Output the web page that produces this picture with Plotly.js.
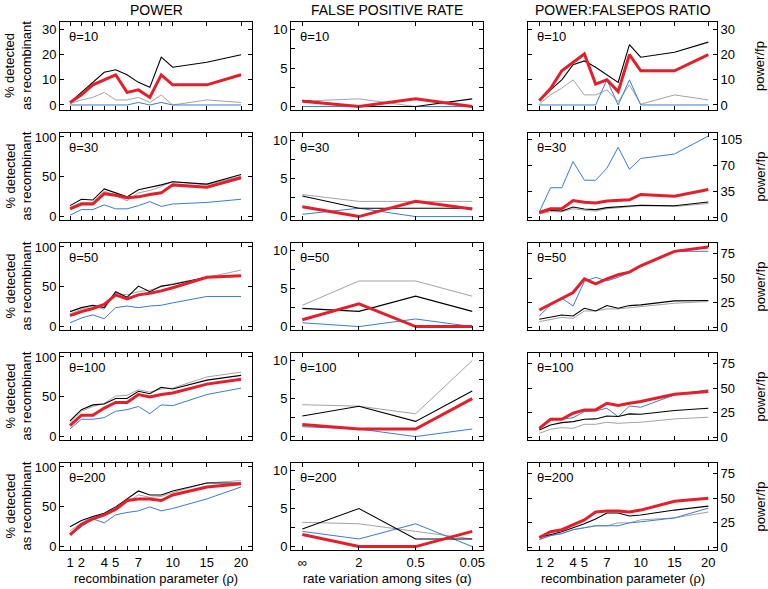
<!DOCTYPE html>
<html><head><meta charset="utf-8">
<script src="https://cdn.plot.ly/plotly-3.0.1.min.js"></script>
<style>html,body{margin:0;padding:0;background:#fff}#chart{width:768px;height:589px}</style>
</head><body><div id="chart"></div>
<script>
// ---------- DATA ----------
const thetas = [10, 30, 50, 100, 200];
const rho = [1, 2, 3, 4, 5, 6, 7, 8, 9, 10, 15, 20];
const rhoTickLabels = ['1', '2', '', '4', '5', '', '7', '', '', '10', '15', '20'];
const alphaCats = ['∞', '2', '0.5', '0.05'];
const colTitles = ['POWER', 'FALSE POSITIVE RATE', 'POWER:FALSEPOS RATIO'];

// POWER (% detected as recombinant)
const pow10_black = [1, 5, 9, 13, 14, 12, 9, 7, 19, 15, 17, 20];
const pow10_red   = [1, 4, 8, 10, 12, 5, 6, 3, 12, 8, 8, 12];
const pow10_gray  = [0.5, 2, 3, 5, 2, 2, 3, 1, 4, 0, 2, 1];
const pow10_blue  = [0, 0, 0, 0, 0, 0, 1, 0, 1, 0, 0, 0];

const pow30_black = [14, 22, 21, 35, 30, 25, 34, 37, 40, 44, 41, 53];
const pow30_red   = [10, 16, 16, 29, 27, 24, 25, 28, 30, 40, 37, 49];
const pow30_gray  = [12, 18, 18, 32, 27, 20, 30, 33, 38, 44, 40, 51];
const pow30_blue  = [2, 9, 9, 15, 10, 10, 14, 19, 13, 16, 18, 22];

const pow50_black = [19, 24, 27, 24, 44, 37, 51, 44, 51, 53, 62, 64];
const pow50_red   = [14, 19, 23, 28, 40, 35, 40, 42, 45, 49, 62, 64];
const pow50_gray  = [16, 22, 26, 22, 42, 40, 44, 46, 50, 54, 62, 71];
const pow50_blue  = [5, 11, 15, 10, 24, 26, 24, 26, 27, 30, 38, 38];

const pow100_black = [20, 34, 40, 41, 48, 48, 57, 54, 62, 60, 71, 77];
const pow100_red   = [14, 27, 27, 36, 43, 43, 53, 50, 53, 55, 66, 72];
const pow100_gray  = [18, 32, 38, 42, 51, 52, 59, 56, 60, 61, 75, 81];
const pow100_blue  = [10, 22, 22, 24, 32, 34, 38, 29, 40, 39, 53, 61];

const pow200_black = [25, 33, 38, 42, 50, 60, 70, 65, 65, 70, 80, 80];
const pow200_red   = [15, 28, 35, 40, 47, 58, 60, 60, 58, 65, 75, 79];
const pow200_gray  = [20, 30, 38, 40, 45, 56, 65, 62, 63, 68, 80, 83];
const pow200_blue  = [15, 25, 35, 30, 40, 43, 45, 50, 45, 48, 60, 75];

// FALSE POSITIVE RATE
const fp10_black = [0.8, 0, 0, 1];
const fp10_red   = [0.7, 0, 1, 0];
const fp10_gray  = [0.7, 1, 0, 0];
const fp10_blue  = [0, 0, 0, 0];

const fp30_black = [2.7, 1.1, 1.1, 1.1];
const fp30_red   = [1.3, 0, 2, 1];
const fp30_gray  = [2.9, 2, 2, 2];
const fp30_blue  = [0.3, 1.1, 0, 0];

const fp50_black = [2.4, 2, 4, 2];
const fp50_red   = [0.9, 3, 0, 0];
const fp50_gray  = [2.8, 6, 6, 4];
const fp50_blue  = [0.5, 0, 1, 0];

const fp100_black = [2.7, 4, 2, 6];
const fp100_red   = [1.6, 1, 1, 5];
const fp100_gray  = [4.2, 4, 3, 10];
const fp100_blue  = [1.3, 1, 0, 1];

const fp200_black = [2.3, 5, 1, 1];
const fp200_red   = [1.6, 0, 0, 2];
const fp200_gray  = [3.2, 3, 2, 1];
const fp200_blue  = [2, 1, 3, 0];

// POWER : FALSEPOS RATIO
const ratio10_black = [2, 6, 10, 16, 17.5, 15, 12, 9, 24, 19, 21, 25];
const ratio10_red   = [1.7, 6.5, 13.6, 17, 20.3, 8.3, 10, 5.3, 20, 13.6, 13.6, 20];
const ratio10_gray  = [0.4, 4, 6.7, 10, 4, 4, 6, 1.3, 8, 0.3, 4, 2];
const ratio10_blue  = [0, 0, 0, 0, 0, 0, 10, 0, 10, 0, 0, 0];

const ratio30_black = [6.3, 10, 9, 14.4, 11.7, 10.8, 13.5, 14.4, 15.3, 16.6, 16, 21];
const ratio30_red   = [7, 12, 12, 23, 20.6, 19.7, 22.4, 23, 24, 31, 28.7, 37.7];
const ratio30_gray  = [5, 8, 8, 12, 10, 9, 12, 13, 14, 16, 15, 19];
const ratio30_blue  = [7.6, 40, 40, 75, 50, 50, 66, 94, 64.6, 79, 85, 109];

const ratio50_black = [8.2, 10.2, 12.6, 11.6, 19.5, 16.7, 22.2, 19.5, 22.2, 22.9, 27, 27.3];
const ratio50_red   = [17.7, 23.9, 29.7, 35.5, 49.5, 44.4, 49.5, 53.6, 56.3, 62.8, 77.5, 82];
const ratio50_gray  = [5.8, 8.2, 10.2, 9.2, 16.7, 16.7, 18.8, 18.8, 20, 21, 24.6, 26.3];
const ratio50_blue  = [11.6, 22.9, 29.7, 21.8, 46.8, 51, 47.4, 51, 56, 62, 77.5, 77.5];

const ratio100_black = [7.5, 12.6, 15, 16, 18.4, 18.8, 21.8, 21.2, 23.9, 23.5, 27.3, 29.7];
const ratio100_red   = [9.2, 18.4, 18.4, 24.6, 28, 28, 34.8, 32.4, 34.8, 36.5, 44, 46.8];
const ratio100_gray  = [4.1, 8.2, 9.9, 9.2, 13.3, 13.3, 15.4, 14.3, 15, 15.4, 18.8, 20.5];
const ratio100_blue  = [8.5, 17.7, 18.4, 20, 26.3, 27, 29.7, 21, 32, 30.7, 43.3, 48.5];

const ratio200_black = [10, 13, 16, 20, 24, 29, 35, 35, 32, 33, 38, 42];
const ratio200_red   = [10, 16, 18, 23, 28, 36, 37, 37, 36, 38, 47, 50];
const ratio200_gray  = [8, 12, 14, 18, 20, 22, 22, 25, 25, 28, 30, 36];
const ratio200_blue  = [8, 12, 14, 18, 20, 22, 22, 22, 25, 26, 30, 40];

// ---------- STYLE / LAYOUT HELPERS ----------
const COLORS = {gray: '#a3a3a3', blue: '#3b7bd6', black: '#000000', red: '#e41f2b'};
const WIDTHS = {gray: 1, blue: 1, black: 1.1, red: 3};
const ORDER = ['gray', 'blue', 'black', 'red'];

// nonuniform rho axis scale: 1..10 evenly spaced, then 15 and 20 compressed
function rhoScale(r) { return r <= 10 ? r : 10 + (r - 10) * 0.6; }
const rhoPos = rho.map(rhoScale);

const powerSets = [
  {black: pow10_black, red: pow10_red, gray: pow10_gray, blue: pow10_blue},
  {black: pow30_black, red: pow30_red, gray: pow30_gray, blue: pow30_blue},
  {black: pow50_black, red: pow50_red, gray: pow50_gray, blue: pow50_blue},
  {black: pow100_black, red: pow100_red, gray: pow100_gray, blue: pow100_blue},
  {black: pow200_black, red: pow200_red, gray: pow200_gray, blue: pow200_blue}
];
const fpSets = [
  {black: fp10_black, red: fp10_red, gray: fp10_gray, blue: fp10_blue},
  {black: fp30_black, red: fp30_red, gray: fp30_gray, blue: fp30_blue},
  {black: fp50_black, red: fp50_red, gray: fp50_gray, blue: fp50_blue},
  {black: fp100_black, red: fp100_red, gray: fp100_gray, blue: fp100_blue},
  {black: fp200_black, red: fp200_red, gray: fp200_gray, blue: fp200_blue}
];
const ratioSets = [
  {black: ratio10_black, red: ratio10_red, gray: ratio10_gray, blue: ratio10_blue},
  {black: ratio30_black, red: ratio30_red, gray: ratio30_gray, blue: ratio30_blue},
  {black: ratio50_black, red: ratio50_red, gray: ratio50_gray, blue: ratio50_blue},
  {black: ratio100_black, red: ratio100_red, gray: ratio100_gray, blue: ratio100_blue},
  {black: ratio200_black, red: ratio200_red, gray: ratio200_gray, blue: ratio200_blue}
];

const W = 768, H = 589;
const colPx = [[60, 252], [291, 483], [528, 717]];
const rowTop = [22, 133, 243, 353, 463];
const rowBot = [110, 220, 330, 440, 550];

const yRanges = [
  [[-2, 33], [-0.45, 11], [-2, 33]],
  [[-4, 105], [-0.45, 11], [-3, 113]],
  [[-4, 105], [-0.45, 11], [-2.7, 86]],
  [[-4, 105], [-0.45, 11], [-2.7, 86]],
  [[-4, 105], [-0.45, 11], [-2.7, 86]]
];
const yTicks = [
  [[0, 10, 20, 30], [0, 5, 10], [0, 10, 20, 30]],
  [[0, 50, 100], [0, 5, 10], [0, 35, 70, 105]],
  [[0, 50, 100], [0, 5, 10], [0, 25, 50, 75]],
  [[0, 50, 100], [0, 5, 10], [0, 25, 50, 75]],
  [[0, 50, 100], [0, 5, 10], [0, 25, 50, 75]]
];

const FONT = 'Liberation Sans, Arial, Helvetica, sans-serif';
const traces = [];
const layout = {
  width: W, height: H, showlegend: false,
  margin: {l: 0, r: 0, t: 0, b: 0},
  paper_bgcolor: '#fff', plot_bgcolor: '#fff',
  font: {family: FONT, size: 13, color: '#000'},
  annotations: []
};

for (let r = 0; r < 5; r++) {
  for (let c = 0; c < 3; c++) {
    const k = r * 3 + c + 1;
    const xa = k === 1 ? 'x' : 'x' + k;
    const ya = k === 1 ? 'y' : 'y' + k;
    const sets = c === 0 ? powerSets[r] : c === 1 ? fpSets[r] : ratioSets[r];
    const xs = c === 1 ? alphaCats : rhoPos;
    ORDER.forEach(col => {
      traces.push({
        type: 'scatter', mode: 'lines', x: xs, y: sets[col],
        xaxis: xa, yaxis: ya, hoverinfo: 'skip',
        line: {color: COLORS[col], width: WIDTHS[col]}
      });
    });
    const bottom = r === 4;
    const xdef = {
      domain: [colPx[c][0] / W, colPx[c][1] / W],
      anchor: ya, showline: true, mirror: 'ticks', linecolor: '#000', linewidth: 1,
      ticks: 'inside', ticklen: 4, tickcolor: '#000', showgrid: false, zeroline: false,
      showticklabels: bottom, tickfont: {family: FONT, size: 13, color: '#000'}, fixedrange: true
    };
    if (c === 1) {
      xdef.type = 'category';
      xdef.categoryarray = alphaCats;
      xdef.range = [-0.2, 3.19];
    } else {
      xdef.range = c === 0 ? [0.12, 16.96] : [0.0, 16.77];
      xdef.tickmode = 'array';
      xdef.tickvals = rhoPos;
      xdef.ticktext = rhoTickLabels;
    }
    const ydef = {
      domain: [1 - rowBot[r] / H, 1 - rowTop[r] / H],
      anchor: xa, showline: true, mirror: 'ticks', linecolor: '#000', linewidth: 1,
      ticks: 'inside', ticklen: 4, tickcolor: '#000', showgrid: false, zeroline: false,
      range: yRanges[r][c], tickmode: 'array', tickvals: yTicks[r][c],
      tickfont: {family: FONT, size: 13, color: '#000'}, fixedrange: true
    };
    if (c === 1) {
      ydef.minor = {ticks: 'inside', ticklen: 4, tickcolor: '#000', tickmode: 'array', tickvals: [2.5, 7.5], showgrid: false};
    }
    if (c === 2) ydef.side = 'right';
    layout[k === 1 ? 'xaxis' : 'xaxis' + k] = xdef;
    layout[k === 1 ? 'yaxis' : 'yaxis' + k] = ydef;

    layout.annotations.push({
      xref: xa + ' domain', yref: ya + ' domain', x: 0.035, y: 0.94,
      xanchor: 'left', yanchor: 'top', showarrow: false,
      text: 'θ=' + thetas[r], font: {family: FONT, size: 13, color: '#000'}
    });

    const yc = 1 - (rowTop[r] + rowBot[r]) / 2 / H;
    if (c === 0) {
      layout.annotations.push({
        xref: 'paper', yref: 'paper', x: 18 / W, y: yc, xanchor: 'center', yanchor: 'middle',
        textangle: -90, showarrow: false, text: '% detected<br>as recombinant',
        font: {family: FONT, size: 13, color: '#000'}
      });
    }
    if (c === 2) {
      layout.annotations.push({
        xref: 'paper', yref: 'paper', x: 760 / W, y: yc, xanchor: 'center', yanchor: 'middle',
        textangle: -90, showarrow: false, text: 'power/fp',
        font: {family: FONT, size: 13, color: '#000'}
      });
    }
  }
}

colTitles.forEach((t, c) => {
  layout.annotations.push({
    xref: 'paper', yref: 'paper', x: (colPx[c][0] + colPx[c][1]) / 2 / W, y: 1 - 10 / H,
    xanchor: 'center', yanchor: 'middle', showarrow: false, text: t,
    font: {family: FONT, size: 14, color: '#000'}
  });
});
const xTitles = ['recombination parameter (ρ)', 'rate variation among sites (α)', 'recombination parameter (ρ)'];
xTitles.forEach((t, c) => {
  layout.annotations.push({
    xref: 'paper', yref: 'paper', x: (colPx[c][0] + colPx[c][1]) / 2 / W, y: 1 - 578 / H,
    xanchor: 'center', yanchor: 'middle', showarrow: false, text: t,
    font: {family: FONT, size: 13, color: '#000'}
  });
});

Plotly.newPlot('chart', traces, layout, {staticPlot: true, displayModeBar: false});
</script>
</body></html>
